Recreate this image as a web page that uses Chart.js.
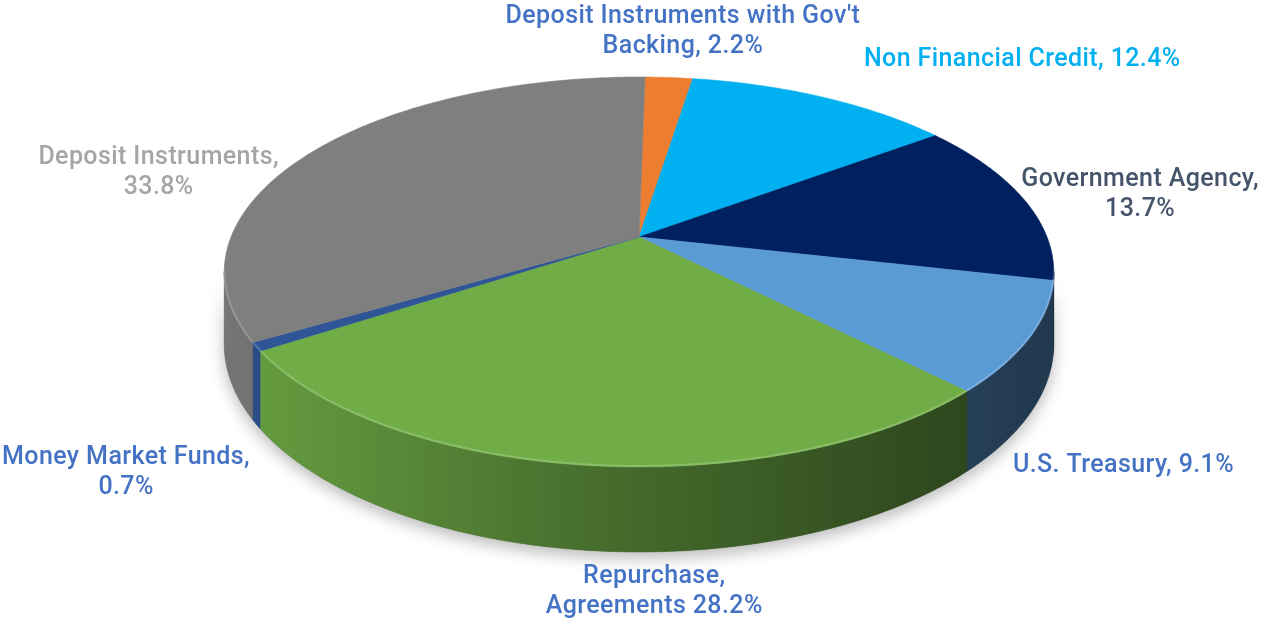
<!DOCTYPE html>
<html>
<head>
<meta charset="utf-8">
<script src="https://cdn.jsdelivr.net/npm/chart.js@4.4.1/dist/chart.umd.min.js"></script>
<style>
  html, body { margin: 0; padding: 0; background: #fff; overflow: hidden; }
  #wrap { width: 1272px; height: 621px; }
</style>
</head>
<body>
<div id="wrap"><canvas id="pieChart"></canvas></div>
<script>
// Data
const categories = ["Deposit Instruments with Gov't Backing", 'Non Financial Credit', 'Government Agency', 'U.S. Treasury', 'Repurchase Agreements', 'Money Market Funds', 'Deposit Instruments'];
const shares = [2.2, 12.4, 13.7, 9.1, 28.2, 0.7, 33.8];
// label text, '|' = line break, {v} = value
const labelTemplates = ["Deposit Instruments with Gov't|Backing, {v}", 'Non Financial Credit, {v}', 'Government Agency,|{v}', 'U.S. Treasury, {v}', 'Repurchase,|Agreements {v}', 'Money Market Funds,|{v}', 'Deposit Instruments,|{v}'];

// Styles
const sliceColors = ['#ED7D31', '#00B0F0', '#002060', '#5B9BD5', '#70AD47', '#2F5597', '#7F7F7F'];
const labelColors = ['#4472C4', '#00B0F0', '#44546A', '#4472C4', '#4472C4', '#4472C4', '#A5A5A5'];
// label centre relative to the rim point at the slice's mid angle
const labelOffsets = [[14, -46], [200, -37], [116, -5], [94, 128], [69, 126], [-130, 126], [-157, 23]];

// perspective of the tilted disc
const K = 0.1795, A = 408, B = 188.7, DEPTH = 69.7;

function proj(cx, cy, a, drop) {
    const u = Math.cos(a), v = Math.sin(a);
    const w = 1 - K * v;
    return [cx + A * u / w, cy + (B * v + (drop || 0) * DEPTH) / w];
}

function shade(hex, f) {
    const n = parseInt(hex.slice(1), 16);
    let r = (n >> 16) & 255, g = (n >> 8) & 255, b = n & 255;
    if (f <= 1) { r *= f; g *= f; b *= f; }
    else { const t = f - 1; r += (255 - r) * t; g += (255 - g) * t; b += (255 - b) * t; }
    return `rgb(${Math.round(r)},${Math.round(g)},${Math.round(b)})`;
}

function arcPoints(cx, cy, s, e, drop) {
    const pts = [];
    const steps = Math.max(2, Math.ceil(Math.abs(e - s) * 80));
    for (let i = 0; i <= steps; i++) pts.push(proj(cx, cy, s + (e - s) * i / steps, drop));
    return pts;
}

const frontLo = Math.asin(K), frontHi = Math.PI - Math.asin(K);

const pie3d = {
    id: 'pie3d',
    beforeDatasetsDraw(chart) {
        const ctx = chart.ctx;
        const arcs = chart.getDatasetMeta(0).data;
        const cx = arcs[0].x, cy = arcs[0].y;

        ctx.save();
        // soft shadow under the pie
        ctx.beginPath();
        arcPoints(cx, cy, frontLo, frontHi, 0).forEach((p, i) => i ? ctx.lineTo(p[0], p[1]) : ctx.moveTo(p[0], p[1]));
        arcPoints(cx, cy, frontHi, frontLo, 1).forEach(p => ctx.lineTo(p[0], p[1]));
        ctx.closePath();
        ctx.shadowColor = 'rgba(0,0,0,0.28)';
        ctx.shadowBlur = 16;
        ctx.shadowOffsetY = 6;
        ctx.fillStyle = '#777';
        ctx.fill();
        ctx.restore();

        // front walls
        arcs.forEach((arc, i) => {
            const s = Math.max(arc.startAngle, frontLo), e = Math.min(arc.endAngle, frontHi);
            if (e <= s) return;
            const c = sliceColors[i];
            const grad = ctx.createLinearGradient(cx - A * 1.02, 0, cx + A * 1.02, 0);
            grad.addColorStop(0, shade(c, 0.92));
            grad.addColorStop(0.5, shade(c, 0.6));
            grad.addColorStop(1, shade(c, 0.36));
            ctx.beginPath();
            arcPoints(cx, cy, s, e, 0).forEach((p, j) => j ? ctx.lineTo(p[0], p[1]) : ctx.moveTo(p[0], p[1]));
            arcPoints(cx, cy, e, s, 1).forEach(p => ctx.lineTo(p[0], p[1]));
            ctx.closePath();
            ctx.fillStyle = grad;
            ctx.strokeStyle = grad;
            ctx.lineWidth = 0.6;
            ctx.fill();
            ctx.stroke();
        });

        // top faces
        arcs.forEach((arc, i) => {
            ctx.beginPath();
            ctx.moveTo(cx, cy);
            arcPoints(cx, cy, arc.startAngle, arc.endAngle, 0).forEach(p => ctx.lineTo(p[0], p[1]));
            ctx.closePath();
            ctx.fillStyle = sliceColors[i];
            ctx.strokeStyle = sliceColors[i];
            ctx.lineWidth = 0.6;
            ctx.fill();
            ctx.stroke();
        });

        // rim highlight on the front edge
        arcs.forEach((arc, i) => {
            const s = Math.max(arc.startAngle, frontLo), e = Math.min(arc.endAngle, frontHi);
            if (e <= s) return;
            ctx.beginPath();
            arcPoints(cx, cy, s, e, 0).forEach((p, j) => j ? ctx.lineTo(p[0], p[1] - 1) : ctx.moveTo(p[0], p[1] - 1));
            ctx.strokeStyle = shade(sliceColors[i], 1.3);
            ctx.globalAlpha = 0.6;
            ctx.lineWidth = 2;
            ctx.stroke();
            ctx.globalAlpha = 1;
        });
        return false;
    },
    afterDraw(chart) {
        const ctx = chart.ctx;
        const arcs = chart.getDatasetMeta(0).data;
        const cx = arcs[0].x, cy = arcs[0].y;
        ctx.save();
        ctx.font = '500 25px Roboto';
        ctx.letterSpacing = '0.4px';
        ctx.textAlign = 'center';
        ctx.textBaseline = 'middle';
        arcs.forEach((arc, i) => {
            const mid = (arc.startAngle + arc.endAngle) / 2;
            const p = proj(cx, cy, mid, 0);
            const x = p[0] + labelOffsets[i][0], y = p[1] + labelOffsets[i][1];
            const lines = labelTemplates[i].replace('{v}', shares[i].toFixed(1) + '%').split('|');
            const lh = 30;
            ctx.fillStyle = labelColors[i];
            lines.forEach((t, j) => ctx.fillText(t, x, y + (j - (lines.length - 1) / 2) * lh));
        });
        ctx.restore();
    }
};

const ctx = document.getElementById('pieChart').getContext('2d');
new Chart(ctx, {
    type: 'pie',
    data: {
        labels: categories,
        datasets: [{
            data: shares,
            backgroundColor: sliceColors,
            borderWidth: 0
        }]
    },
    options: {
        responsive: true,
        maintainAspectRatio: false,
        animation: false,
        rotation: 1,
        layout: { padding: { left: 6, top: 0, right: 0, bottom: 147 } },
        plugins: {
            legend: { display: false },
            tooltip: { enabled: false }
        }
    },
    plugins: [pie3d]
});
</script>
</body>
</html>
